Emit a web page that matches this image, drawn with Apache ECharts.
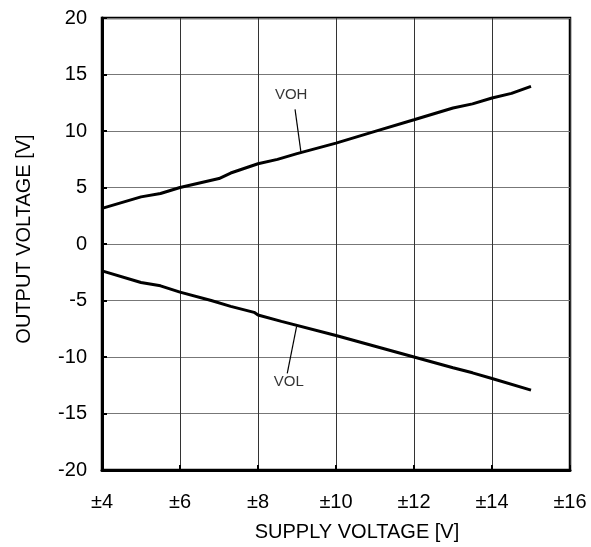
<!DOCTYPE html>
<html>
<head>
<meta charset="utf-8">
<script src="https://cdn.jsdelivr.net/npm/echarts@6/dist/echarts.min.js"></script>
<style>
html,body{margin:0;padding:0;background:#fff;}
#c{width:591px;height:547px;}
</style>
</head>
<body>
<div id="c"></div>
<script>
// Data
const vohX = [4, 5, 5.5, 6, 7, 7.3, 8, 8.5, 9, 10, 11, 12, 13, 13.5, 14, 14.5, 15];
const vohY = [3.15, 4.17, 4.47, 5.0, 5.79, 6.28, 7.1, 7.49, 8.0, 8.93, 9.97, 11.0, 12.04, 12.4, 12.92, 13.33, 13.95];
const volX = [4, 5, 5.5, 6, 6.8, 7.3, 7.9, 8, 8.6, 10, 11, 12, 13, 13.5, 14, 15];
const volY = [-2.38, -3.41, -3.7, -4.26, -5.0, -5.52, -6.05, -6.28, -6.85, -8.1, -9.05, -10.0, -10.95, -11.4, -11.9, -12.93];
const xTicks = [4, 6, 8, 10, 12, 14, 16];
const xTickLabels = ['±4', '±6', '±8', '±10', '±12', '±14', '±16'];
const yTicks = [-20, -15, -10, -5, 0, 5, 10, 15, 20];
const vohLeader = [[8.95, 11.92], [9.1, 8.15]];
const volLeader = [[8.99, -7.3], [8.75, -11.44]];
const annotations = [{name: 'VOH', value: [8.85, 13.2]}, {name: 'VOL', value: [8.79, -12.21]}];

const pairs = (xs, ys) => xs.map((x, i) => [x, ys[i]]);
const FONT = 'Liberation Sans, Arial, sans-serif';

const chart = echarts.init(document.getElementById('c'), null, {renderer: 'canvas'});
chart.setOption({
  animation: false,
  backgroundColor: '#fff',
  grid: {left: 102, top: 18, right: 21, bottom: 77, show: true, borderColor: '#000', borderWidth: 2.5},
  xAxis: {
    type: 'value', min: xTicks[0], max: xTicks[xTicks.length - 1], interval: 2,
    name: 'SUPPLY VOLTAGE [V]', nameLocation: 'middle', nameGap: 52,
    nameTextStyle: {fontFamily: FONT, fontSize: 20, color: '#000', padding: [0, 0, 0, 42]},
    axisLine: {show: true, onZero: false, lineStyle: {color: '#000', width: 3}},
    axisTick: {show: true, inside: true, length: 5, lineStyle: {color: '#000', width: 2}},
    axisLabel: {
      margin: 22, fontFamily: FONT, fontSize: 20, color: '#000',
      formatter: v => xTickLabels[xTicks.indexOf(v)] ?? ''
    },
    splitLine: {show: true, lineStyle: {color: '#333', width: 1}}
  },
  yAxis: {
    type: 'value', min: yTicks[0], max: yTicks[yTicks.length - 1], interval: 5,
    name: 'OUTPUT VOLTAGE [V]', nameLocation: 'middle', nameGap: 68, nameRotate: 90,
    nameTextStyle: {fontFamily: FONT, fontSize: 20, color: '#000', padding: [0, 0, 0, 10]},
    axisLine: {show: true, onZero: false, lineStyle: {color: '#000', width: 3}},
    axisTick: {show: true, inside: true, length: 5, lineStyle: {color: '#000', width: 2}},
    axisLabel: {margin: 15, fontFamily: FONT, fontSize: 20, color: '#000'},
    splitLine: {show: true, lineStyle: {color: '#777', width: 1}}
  },
  series: [
    {type: 'line', name: 'VOH', data: pairs(vohX, vohY), showSymbol: false, symbol: 'none',
     lineStyle: {color: '#000', width: 3}, z: 5},
    {type: 'line', name: 'VOL', data: pairs(volX, volY), showSymbol: false, symbol: 'none',
     lineStyle: {color: '#000', width: 3}, z: 5},
    {type: 'line', data: vohLeader, symbol: 'none', lineStyle: {color: '#000', width: 1.2}, z: 4},
    {type: 'line', data: volLeader, symbol: 'none', lineStyle: {color: '#000', width: 1.2}, z: 4},
    {type: 'scatter', data: annotations, symbolSize: 0, z: 6,
     label: {show: true, position: 'inside', formatter: p => p.name, fontFamily: FONT, fontSize: 15, color: '#000'}}
  ]
});
</script>
</body>
</html>
